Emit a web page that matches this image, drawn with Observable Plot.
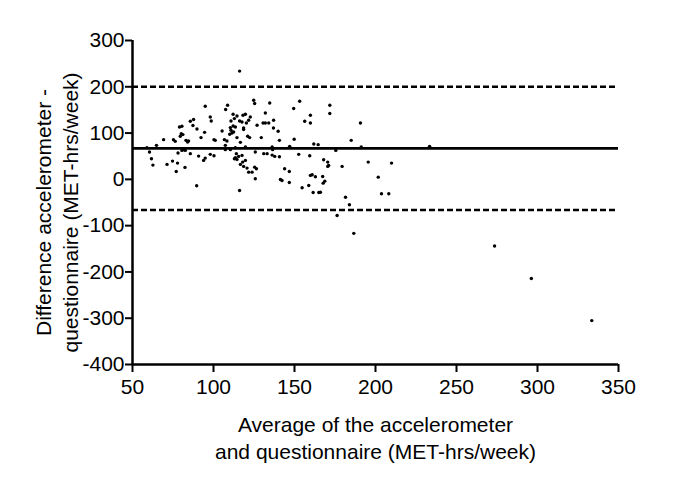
<!DOCTYPE html>
<html>
<head>
<meta charset="utf-8">
<script src="https://cdn.jsdelivr.net/npm/d3@7"></script>
<script src="https://cdn.jsdelivr.net/npm/@observablehq/plot@0.6"></script>
<style>
  html, body { margin: 0; padding: 0; background: white; }
</style>
</head>
<body>
<div id="chart"></div>
<script>
// Average of the two methods (MET-hrs/week)
const avgValues = [
  94.9, 98.0, 98.6, 87.7, 85.7, 79.0, 80.5, 87.3, 89.8, 94.5,
  80.1, 81.1, 79.5, 92.3, 75.3, 76.4, 83.0, 84.0, 84.6, 69.2,
  64.8, 58.9, 60.5, 61.7, 62.6, 71.3, 74.7, 77.8, 77.0, 82.4,
  78.1, 80.5, 82.6, 81.5, 85.7, 90.8, 93.9, 94.9, 98.0, 100.3,
  89.6, 100.3,
  116.1, 124.8, 125.4, 108.7, 107.5, 112.1, 134.7, 132.0, 114.5, 118.2,
  119.7, 122.7, 116.1, 117.6, 110.8, 112.9, 120.3, 121.7, 126.9, 130.6,
  132.0, 134.1, 112.1, 110.4, 113.5, 118.6, 110.8, 112.4, 111.4, 110.0,
  105.3, 114.5, 118.6, 121.1, 122.3, 129.5, 101.1, 106.7, 108.3, 107.3,
  116.6, 125.8, 119.7, 131.0, 133.1, 107.3, 110.4, 113.5, 114.1, 113.5,
  114.5, 112.9, 115.5, 117.6, 118.0, 119.7, 116.6, 118.6, 120.7, 121.7,
  123.8, 125.4, 126.5, 125.8, 116.1,
  153.2, 149.5, 159.8, 156.3, 159.8, 137.1, 137.0, 139.9, 140.7, 149.8,
  136.2, 136.5, 147.0, 161.9, 164.6, 152.6, 159.4, 136.2, 137.8, 140.7,
  168.0, 143.9, 146.8, 141.3, 142.3, 146.8, 159.8, 160.9, 162.9, 167.4,
  154.7, 158.8, 161.5, 165.0, 168.7,
  171.8, 171.8, 190.7, 185.0, 191.2, 175.5, 170.5, 171.1, 170.5, 179.4,
  195.5, 167.7, 166.0, 181.5, 183.9, 201.7, 176.3, 186.6,
  209.9, 203.7, 208.2, 233.4, 273.5, 296.2, 333.5
];
// Difference accelerometer - questionnaire (MET-hrs/week)
const diffValues = [
  158.0, 134.8, 126.1, 129.2, 125.5, 113.1, 114.7, 116.2, 108.8, 101.6,
  98.8, 96.7, 93.0, 90.2, 85.8, 82.1, 84.3, 80.6, 82.8, 85.8,
  73.5, 68.5, 59.0, 44.6, 30.8, 32.3, 39.4, 35.1, 17.1, 25.8,
  56.8, 62.6, 62.6, 64.2, 55.5, 50.3, 41.0, 45.9, 54.0, 51.1,
  -13.9, 85.8,
  233.9, 171.0, 163.8, 160.2, 150.8, 140.7, 165.1, 143.5, 137.0, 138.5,
  140.7, 134.8, 126.1, 124.0, 126.1, 131.3, 121.8, 127.7, 116.8, 121.8,
  121.8, 121.8, 115.3, 111.8, 113.1, 111.0, 106.0, 102.3, 100.1, 97.3,
  104.5, 90.2, 107.5, 93.0, 90.2, 90.2, 84.3, 85.8, 82.8, 73.5,
  80.0, 59.0, 69.8, 55.5, 55.5, 64.2, 64.2, 68.5, 55.5, 46.8,
  43.1, 44.6, 49.6, 51.8, 37.3, 41.0, 32.3, 28.0, 24.3, 15.6,
  15.6, 26.4, 23.0, 1.3, -24.1,
  168.8, 153.0, 138.5, 125.5, 121.8, 127.7, 111.0, 103.8, 84.3, 86.5,
  69.8, 64.2, 71.3, 76.3, 75.0, 54.0, 51.1, 52.4, 49.6, 49.0,
  42.5, 23.0, 17.1, -0.2, -2.4, -6.7, 8.5, 10.0, 5.6, 6.3,
  -18.2, -13.2, -28.4, -28.4, -3.9,
  160.2, 142.2, 121.8, 84.3, 69.8, 62.6, 37.3, 30.1, 28.0, 28.0,
  37.3, -8.2, -27.7, -38.6, -55.0, 4.8, -78.2, -116.6,
  35.1, -31.2, -31.2, 71.3, -143.9, -214.1, -305.2
];
const meanDiff = 67;
const limitsOfAgreement = [200, -66];
const xTicks = [50, 100, 150, 200, 250, 300, 350];
const yTicks = [-400, -300, -200, -100, 0, 100, 200, 300];
const xLabel = "Average of the accelerometer\nand questionnaire (MET-hrs/week)";
const yLabel = "Difference accelerometer -\nquestionnaire (MET-hrs/week)";

const points = avgValues.map((a, i) => ({avg: a, diff: diffValues[i]}));

const chart = Plot.plot({
  width: 685,
  height: 478,
  marginLeft: 132,
  marginRight: 67,
  marginTop: 40,
  marginBottom: 114,
  x: {domain: [50, 350]},
  y: {domain: [-400, 300]},
  style: {fontFamily: "'Liberation Sans', Arial, sans-serif", fontSize: "21px", color: "black", background: "white"},
  marks: [
    Plot.axisX(xTicks, {tickSize: 8, tickPadding: 7, fontSize: 21, strokeWidth: 2, label: null, tickFormat: d => String(d)}),
    Plot.axisY(yTicks, {tickSize: 7, tickPadding: 1, fontSize: 21, strokeWidth: 2, label: null, tickFormat: d => String(d)}),
    Plot.ruleY([-400], {stroke: "black", strokeWidth: 2.5}),
    Plot.ruleX([50], {stroke: "black", strokeWidth: 2.5}),
    Plot.ruleY([meanDiff], {stroke: "black", strokeWidth: 2.8}),
    Plot.ruleY(limitsOfAgreement, {stroke: "black", strokeWidth: 2.5, strokeDasharray: "6,3"}),
    Plot.dot(points, {x: "avg", y: "diff", r: 1.7, fill: "black", stroke: null}),
    Plot.text([xLabel], {frameAnchor: "bottom", lineAnchor: "top", dy: 48, fontSize: 21, lineHeight: 1.3, fill: "black"}),
    Plot.text([yLabel], {frameAnchor: "left", textAnchor: "middle", rotate: -90, lineAnchor: "top", dx: -101, dy: 10, fontSize: 21, lineHeight: 1.3, fill: "black"})
  ]
});
document.getElementById("chart").appendChild(chart);
</script>
</body>
</html>
